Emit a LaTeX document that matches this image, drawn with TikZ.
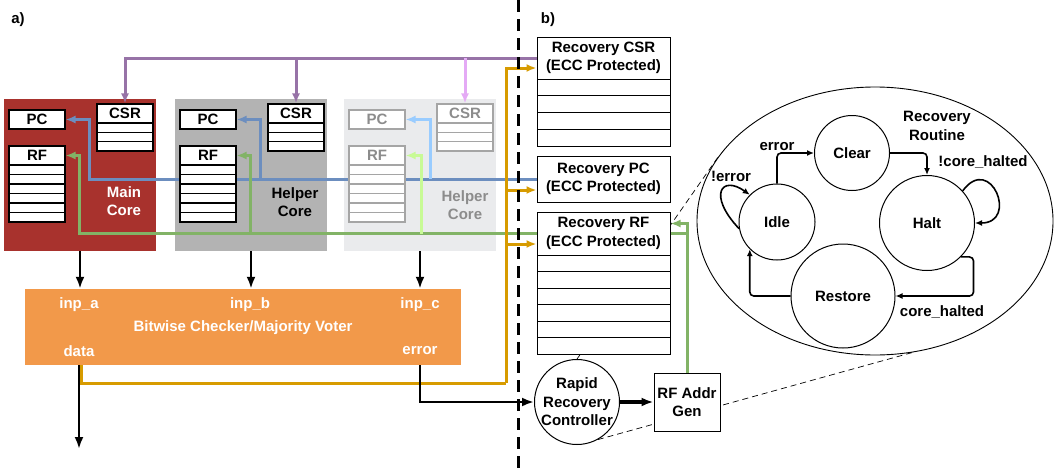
\documentclass[tikz,border=0pt]{standalone}
\usepackage{fontspec}
\setmainfont{Liberation Sans}
\usetikzlibrary{
    arrows.meta,
    backgrounds,
    calc,
    shapes.geometric
}
\pgfdeclarelayer{corelayer}
\pgfsetlayers{corelayer,background,main}
\definecolor{corered}{RGB}{168,50,45}
\definecolor{coregray}{RGB}{179,179,179}
\definecolor{corefaded}{RGB}{234,235,237}
\definecolor{fadedline}{RGB}{165,165,165}
\definecolor{fadedtext}{RGB}{140,140,140}
\definecolor{csrpurple}{RGB}{151,115,167}
\definecolor{csrpink}{RGB}{228,170,245}
\definecolor{pcblue}{RGB}{108,142,191}
\definecolor{pclight}{RGB}{153,204,255}
\definecolor{rfgreen}{RGB}{130,179,102}
\definecolor{rflight}{RGB}{200,250,150}
\definecolor{datagold}{RGB}{215,155,0}
\definecolor{voterorange}{RGB}{242,153,74}
\tikzset{
    % Box styles
    core box/.style={
        rectangle,
        minimum width=152pt,
        minimum height=152pt,
        inner sep=0pt
    },
    reg box/.style={
        draw=black,
        fill=white,
        line width=1.1pt,
        rectangle,
        minimum width=56pt,
        minimum height=19pt,
        inner sep=0pt
    },
    reg row/.style={
        draw=black,
        fill=white,
        line width=1.1pt,
        rectangle,
        minimum width=56pt,
        inner sep=0pt
    },
    rec box/.style={
        draw=black,
        fill=white,
        line width=1pt,
        rectangle,
        minimum width=133pt,
        inner sep=0pt,
        align=center
    },
    rec row/.style={
        draw=black,
        fill=white,
        line width=1pt,
        rectangle,
        minimum width=133pt,
        inner sep=0pt
    },
    voter box/.style={
        fill=voterorange,
        rectangle,
        minimum width=436pt,
        minimum height=76pt,
        inner sep=0pt
    },
    port/.style={
        text=white
    },
    ctrl circle/.style={
        draw=black,
        fill=white,
        circle,
        line width=1pt,
        minimum size=85pt,
        inner sep=-1.5pt,
        align=center
    },
    routine/.style={
        draw=black,
        ellipse,
        line width=0.9pt,
        minimum width=356pt,
        minimum height=268pt
    },
    state/.style={
        draw=black,
        fill=white,
        circle,
        line width=1pt,
        inner sep=0pt
    },
    % Arrow styles
    sig arrow/.style={
        ->,
        >={Latex[length=12pt,width=9pt]},
        line width=2.4pt,
        black
    },
    csr bus/.style={
        ->,
        >={Latex[length=10pt,width=8pt]},
        line width=3pt,
        csrpurple
    },
    pc bus/.style={
        ->,
        >={Latex[length=10pt,width=8pt]},
        line width=3pt,
        pcblue
    },
    rf bus/.style={
        ->,
        >={Latex[length=10pt,width=8pt]},
        line width=3pt,
        rfgreen
    },
    data bus/.style={
        ->,
        >={Latex[length=10pt,width=8pt]},
        line width=3pt,
        datagold
    },
    trans/.style={
        ->,
        >={Latex[length=7pt,width=6pt]},
        line width=1.6pt,
        rounded corners=4pt
    },
    zoom line/.style={
        dash pattern=on 6pt off 4pt,
        line width=0.7pt
    },
    divider/.style={
        line width=3pt,
        dash pattern=on 12pt off 7pt
    }
}

\begin{document}
\begin{tikzpicture}[x=1pt, y=-1pt, font=\bfseries\fontsize{15}{18.5}\selectfont]
        \useasboundingbox (0,0) rectangle (1059,471);

        % Panel labels
        \node (panela) at (18,20) {a)};
        \node (panelb) at (548,20) {b)};
        \draw[divider] (518,0) -- (518,471);

        % Cores
        \foreach \x/\id/\cfill/\rdraw/\tcol in {4/m/corered/black/black, 175/h/coregray/black/black, 344/f/corefaded/fadedline/fadedtext} {
            \begin{pgfonlayer}{corelayer}
                \node[core box, fill=\cfill] (\id core) at (\x+76,175) {};
            \end{pgfonlayer}
            \node[reg box, draw=\rdraw, text=\tcol] (\id pc) at (\x+33,119.5) {PC};
            \node[reg box, draw=\rdraw, text=\tcol] (\id csr) at (\x+121,113.5) {CSR};
            \foreach \r in {1,2,3}
                \node[reg row, draw=\rdraw, minimum height=9.33pt] (\id csr\r) at (\x+121,{123+(\r-0.5)*9.33}) {};
            \node[reg box, draw=\rdraw, text=\tcol] (\id rf) at (\x+33,155.5) {RF};
            \foreach \r in {1,...,6}
                \node[reg row, draw=\rdraw, minimum height=9.5pt] (\id rf\r) at (\x+33,{165+(\r-0.5)*9.5}) {};
        }
        \node[text=white, align=center] (mlabel) at (124,201) {Main\\Core};
        \node[align=center] (hlabel) at (295,202) {Helper\\Core};
        \node[text=fadedtext, align=center] (flabel) at (465,205) {Helper\\Core};

        % Checker
        \node[voter box] (voter) at (243,327) {};
        \node[port] (inpa) at (79,305) {inp\_a};
        \node[port] (inpb) at (250,305) {inp\_b};
        \node[port] (inpc) at (420,305) {inp\_c};
        \node[port] (vlabel) at (243,328) {Bitwise Checker/Majority Voter};
        \node[port] (data) at (79,351) {data};
        \node[port] (err) at (420,351) {error};

        % Recovery storage
        \node[rec box, minimum height=42pt] (rcsr) at (603.5,58) {Recovery CSR\\(ECC Protected)};
        \foreach \r in {1,...,4}
            \node[rec row, minimum height=16.75pt] (rcsr\r) at (603.5,{79+(\r-0.5)*16.75}) {};
        \node[rec box, minimum height=46pt] (rpc) at (603.5,179) {Recovery PC\\(ECC Protected)};
        \node[rec box, minimum height=43pt] (rrf) at (603.5,233.5) {Recovery RF\\(ECC Protected)};
        \foreach \r in {1,...,6}
            \node[rec row, minimum height=16.5pt] (rrf\r) at (603.5,{255+(\r-0.5)*16.5}) {};
        \node[ctrl circle] (rrc) at (577,402) {Rapid\\Recovery\\Controller};
        \node[rec box, minimum width=66pt, minimum height=58pt] (agen) at (687,402) {RF Addr\\Gen};

        % Recovery routine
        \node[routine] (sm) at (875,221) {};
        \node[align=center] (smlabel) at (937,126) {Recovery\\Routine};
        \node[state, minimum size=75pt] (clear) at (852,153) {Clear};
        \node[state, minimum size=76pt] (idle) at (777,222) {Idle};
        \node[state, minimum size=95pt] (halt) at (927,223) {Halt};
        \node[state, minimum size=104pt] (restore) at (843,296) {Restore};

        \draw[trans] (idle.north) |- (clear.west) node[pos=0.5, above, inner sep=2pt] (lerror) {error};
        \draw[trans] (clear.east) -| (halt.north);
        \draw[trans] (halt.42) .. controls +(28,-38) and +(44,0) .. (halt.east);
        \node (lnothalted) at (983,162) {!core\_halted};
        \draw[trans] (halt.-45) -| ($(restore.east)+(78,0)$) -- (restore.east);
        \node (lhalted) at (942,312) {core\_halted};
        \draw[trans] (restore.west) -| (idle.225);
        \draw[trans] (idle.190) .. controls +(-32,-34) and +(-28,-20) .. (idle.135);
        \node (lnoerror) at (731,176) {!error};

        % Connections
        \coordinate (dataout) at (79,449);
        \foreach \id in {m,h,f}
            \draw[sig arrow] (\id core.south) -- (\id core.south |- voter.north);
        \draw[sig arrow] (voter.south -| data) -- (dataout);
        \draw[sig arrow] (voter.south -| err) |- (rrc.west);
        \draw[sig arrow, line width=3.2pt] (rrc.east) -- (agen.west);

        \begin{scope}[on background layer]
            % Zoom lines
            \draw[zoom line] (rrc.north) -- (sm.158);
            \draw[zoom line] (rrc.-61) -- (sm.-74);

            % CSR bus
            \draw[csr bus] (rcsr.west) -| (mcsr.north);
            \draw[csr bus] (hcsr.north |- rcsr.west) -- (hcsr.north);
            \draw[csr bus, csrpink] (fcsr.north |- rcsr.west) -- (fcsr.north);

            % PC bus
            \coordinate (mpcbend) at (89,119.5);
            \coordinate (hpcbend) at (260,119.5);
            \coordinate (fpcbend) at (430,119.5);
            \draw[pc bus] (rpc.west) -| (mpcbend) -- (mpc.east);
            \draw[pc bus] (hpcbend |- rpc.west) |- (hpc.east);
            \draw[pc bus, pclight] (fpcbend |- rpc.west) |- (fpc.east);

            % RF bus
            \coordinate (mrfbend) at (79,155.5);
            \coordinate (hrfbend) at (250,155.5);
            \coordinate (frfbend) at (421,155.5);
            \draw[rf bus] (rrf.west) -| (mrfbend) -- (mrf.east);
            \draw[rf bus] (hrfbend |- rrf.west) |- (hrf.east);
            \draw[rf bus, rflight] (frfbend |- rrf.west) |- (frf.east);
            \draw[rf bus, -] (rrf.east) -| (agen.north);
            \draw[rf bus] (agen.north) |- ($(rrf.east)+(0,-10)$);

            % Data bus
            \coordinate (goldbend) at (506,383);
            \draw[data bus, -] ($(voter.south -| data)+(2,0)$) |- (goldbend);
            \draw[data bus] (goldbend) |- ($(rcsr.west)+(0,10)$);
            \draw[data bus] (goldbend) |- ($(rpc.west)+(0,11)$);
            \draw[data bus] (goldbend) |- ($(rrf.west)+(0,10.5)$);
        \end{scope}
    \end{tikzpicture}
\end{document}
